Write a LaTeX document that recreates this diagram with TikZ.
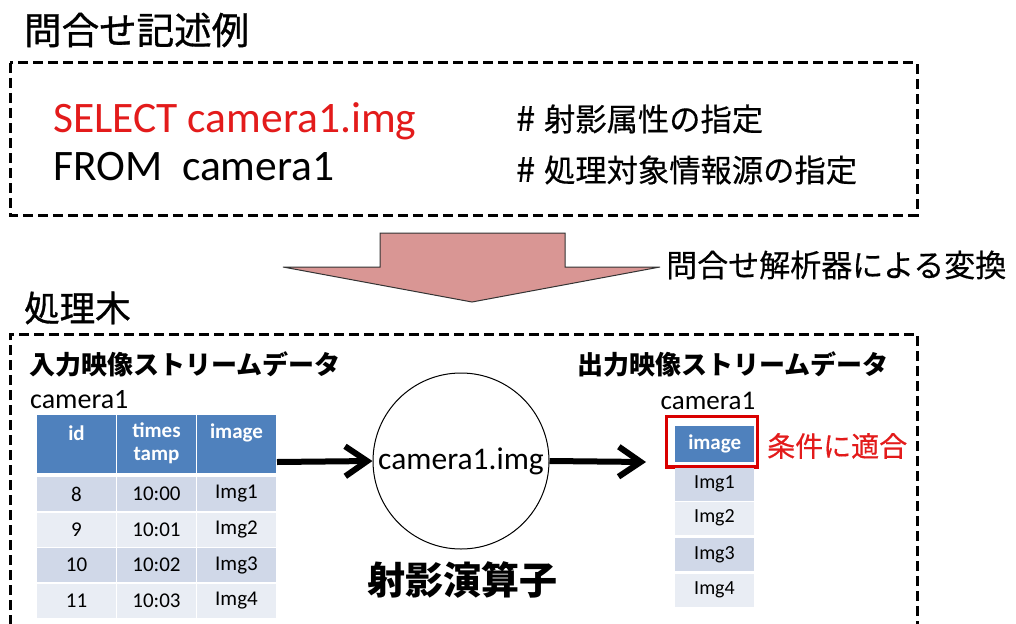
\documentclass[tikz,border=0pt]{standalone}
\usepackage{fontspec}
\setmainfont{Carlito}
\newfontfamily\jp{Noto Sans CJK JP}
\newfontfamily\jpmed[FakeBold=0.9]{Noto Sans CJK JP}
\newfontfamily\jplite[FakeBold=0.4]{Noto Sans CJK JP}
\usetikzlibrary{arrows.meta}
\newcommand\fsz[1]{\fontsize{#1}{#1}\selectfont}
\definecolor{hdrblue}{HTML}{4F81BD}
\definecolor{rowA}{HTML}{D0D8E8}
\definecolor{rowB}{HTML}{E9EDF4}
\definecolor{pinkarrow}{HTML}{D99694}
\definecolor{redtxt}{HTML}{E31B1B}
\tikzset{
  dashbox/.style={draw=black, line width=3pt, dash pattern=on 10pt off 5pt},
  cell/.style={rectangle, inner sep=0pt, minimum width=79pt, minimum height=34pt, text=black, font=\fsz{21}},
  hcell/.style={rectangle, inner sep=0pt, fill=hdrblue, text=white, font=\fsz{21}\bfseries, align=center},
  jptxt/.style={inner sep=0pt, font=\jp},
  thickarrow/.style={line width=6pt, -{Straight Barb[length=22pt,width=30pt]}},
}
\begin{document}
\begin{tikzpicture}[x=1pt,y=-1pt]
\clip (0,0) rectangle (1016,623);
\fill[white] (0,0) rectangle (1016,623);

% ---- top part
\node[jptxt, anchor=west, font=\jpmed\fsz{37.5}] (title1) at (24,30) {問合せ記述例};
\draw[dashbox] (10,63) rectangle (917,215);
\node[inner sep=0pt, anchor=base west, text=redtxt, font=\fsz{43.5}] (sel) at (53,132) {SELECT camera1.img};
\node[inner sep=0pt, anchor=base west, font=\fsz{43.5}] (from) at (53,180) {FROM\ \ camera1};
\node[jptxt, anchor=west, font=\jplite\fsz{31.3}] (c1) at (516,119) {{\fsz{34}\#}\hspace{9pt}射影属性の指定};
\node[jptxt, anchor=west, font=\jplite\fsz{31.3}] (c2) at (516,170) {{\fsz{34}\#}\hspace{9pt}処理対象情報源の指定};

% ---- big arrow
\coordinate (a1) at (380,233);
\coordinate (a2) at (565,233);
\coordinate (a3) at (565,267);
\coordinate (a4) at (660,267);
\coordinate (a5) at (472,302);
\coordinate (a6) at (283,267);
\coordinate (a7) at (380,267);
\draw[fill=pinkarrow, draw=black!80, line width=1pt, line join=miter]
  (a1) -- (a2) -- (a3) -- (a4) -- (a5) -- (a6) -- (a7) -- cycle;
\node[jptxt, anchor=west, font=\jplite\fsz{31}] (conv) at (666,265) {問合せ解析器による変換};

% ---- bottom part
\node[jptxt, anchor=west, font=\jpmed\fsz{35.5}] (title2) at (24,308) {処理木};
\draw[dashbox] (10,640) -- (10,334) -- (917,334) -- (917,640);

\node[jptxt, anchor=west, font=\jp\bfseries\fsz{26}] (inlab) at (29,364) {入力映像ストリームデータ};
\node[inner sep=0pt, anchor=west, font=\fsz{28}] (incam) at (30,400) {camera1};

% input table header
\node[hcell, minimum width=79pt, minimum height=58pt, anchor=north west] (h1) at (37,415) {};
\node[hcell, minimum width=79pt, minimum height=58pt, anchor=north west] (h2) at (117,415) {};
\node[hcell, minimum width=79pt, minimum height=58pt, anchor=north west] (h3) at (197,415) {};
\node[inner sep=0pt, text=white, font=\fsz{21}\bfseries] (h1t) at (76.5,433) {id};
\node[inner sep=0pt, text=white, font=\fsz{21}\bfseries, align=center, anchor=north] (h2t) at (156.5,423) {times\\[2pt]tamp};
\node[inner sep=0pt, text=white, font=\fsz{21}\bfseries] (h3t) at (236.5,433) {image};

% input rows
\foreach \r/\id/\ts/\im/\col [count=\k] in {0/8/10:00/Img1/rowA, 1/9/10:01/Img2/rowB, 2/10/10:02/Img3/rowA, 3/11/10:03/Img4/rowB}{
  \pgfmathsetmacro\yy{494+35.5*\r}
  \node[cell, fill=\col] (r\k c1) at (76.5,\yy) {\id};
  \node[cell, fill=\col] (r\k c2) at (156.5,\yy) {\ts};
  \node[cell, fill=\col] (r\k c3) at (236.5,\yy) {\im};
}

% operator
\node[circle, draw=black, line width=1pt, minimum size=176pt, inner sep=0pt, font=\fsz{31.5}] (op) at (461,461) {camera1.img};
\node[jptxt, font=\jp\bfseries\fsz{38}] (oplab) at (462,580) {射影演算子};

\coordinate (inR) at (277,462);
\coordinate (outL) at (646,462);
\draw[thickarrow] (inR) -- (op.west);
\draw[thickarrow] (op.east) -- (outL);

% output
\node[jptxt, anchor=east, font=\jp\bfseries\fsz{26}] (outlab) at (889,364) {出力映像ストリームデータ};
\node[inner sep=0pt, font=\fsz{27}] (outcam) at (708,401) {camera1};
\node[hcell, minimum width=79pt, minimum height=36pt, anchor=north west, font=\fsz{21}\bfseries] (oh) at (675,426) {image};
\draw[draw=red!85!black, line width=3.2pt] (666.5,416.5) rectangle (757.5,467);
\node[jptxt, anchor=west, text=redtxt, font=\jplite\fsz{28}] (cond) at (767,446) {条件に適合};
\foreach \im/\col/\yy [count=\k] in {Img1/rowA/484, Img2/rowB/518, Img3/rowA/554.5, Img4/rowB/590}{
  \node[cell, fill=\col, minimum width=79pt, minimum height=33pt, font=\fsz{20}] (o\k) at (714.5,\yy) {\im};
}
\end{tikzpicture}
\end{document}
